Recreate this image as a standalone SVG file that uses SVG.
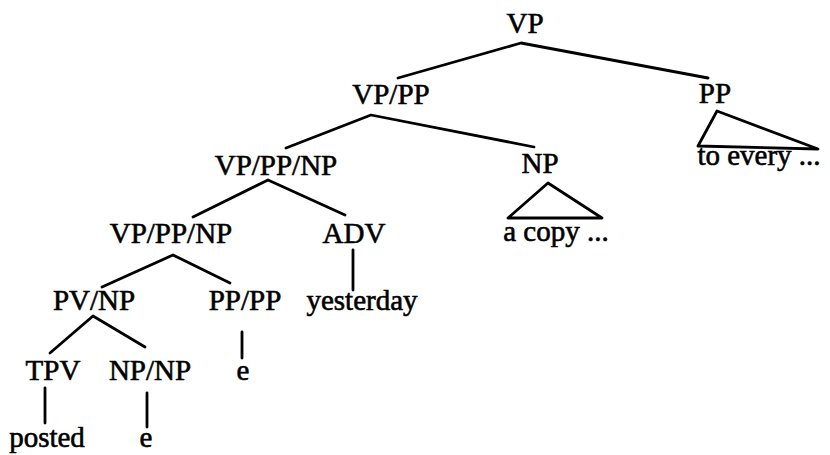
<svg xmlns="http://www.w3.org/2000/svg" width="830" height="455" viewBox="0 0 830 455">
  <style>
    text { font-family: "Liberation Serif", "Times New Roman", serif; font-size: 29px; fill: #000; stroke: #000; stroke-width: 0.6; text-anchor: middle; }
    .edge { stroke: #000; stroke-width: 2.8; fill: none; stroke-linecap: round; stroke-linejoin: round; }
  </style>
  <rect width="830" height="455" fill="#fff"/>

  <!-- branches -->
  <g id="connectors">
    <polyline class="edge" points="398,78 521,43 708,78"/>
    <polyline class="edge" points="286,148 371,115 534,147"/>
    <polyline class="edge" points="193,217 268,180 345,215"/>
    <polyline class="edge" points="102,287 173,255 230,283"/>
    <polyline class="edge" points="50,353 93,316 145,347"/>
    <line class="edge" x1="353" y1="250" x2="353" y2="290"/>
    <line class="edge" x1="242" y1="332" x2="242" y2="358"/>
    <line class="edge" x1="45" y1="388" x2="45" y2="423"/>
    <line class="edge" x1="147" y1="393" x2="147" y2="427"/>
    <!-- collapsed subtrees -->
    <polygon class="edge" points="548,183 508,218 602,218"/>
    <polygon class="edge" points="717,111 698,146 818,149"/>
  </g>

  <g id="n-vp"><text x="525" y="33">VP</text></g>
  <g id="n-vp-pp"><text x="391" y="104">VP/PP</text></g>
  <g id="n-pp"><text x="715" y="103">PP</text></g>
  <g id="n-pp-leaf"><text x="759" y="165">to every ...</text></g>
  <g id="n-vp-pp-np-1"><text x="276" y="175">VP/PP/NP</text></g>
  <g id="n-np"><text x="540" y="173">NP</text></g>
  <g id="n-np-leaf"><text x="556" y="241">a copy ...</text></g>
  <g id="n-vp-pp-np-2"><text x="171" y="243">VP/PP/NP</text></g>
  <g id="n-adv"><text x="354" y="243">ADV</text></g>
  <g id="n-yesterday"><text x="362" y="310">yesterday</text></g>
  <g id="n-pv-np"><text x="94" y="310">PV/NP</text></g>
  <g id="n-pp-pp"><text x="245" y="310">PP/PP</text></g>
  <g id="n-pp-pp-e"><text x="243" y="380">e</text></g>
  <g id="n-tpv"><text x="53" y="380">TPV</text></g>
  <g id="n-np-np"><text x="150" y="380">NP/NP</text></g>
  <g id="n-posted"><text x="47" y="447">posted</text></g>
  <g id="n-np-np-e"><text x="146" y="447">e</text></g>
</svg>
